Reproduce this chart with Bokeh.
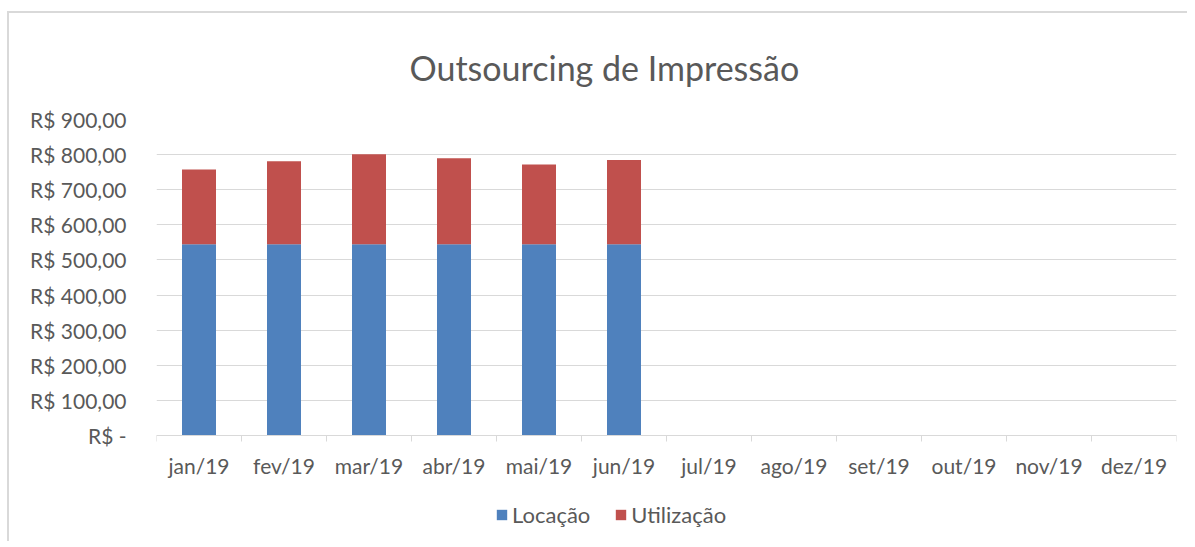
from bokeh.plotting import figure
from bokeh.models import ColumnDataSource, FixedTicker, Legend, LegendItem, Title
from bokeh.core.properties import value
from bokeh.embed import file_html
from bokeh.resources import INLINE

months = ["jan/19", "fev/19", "mar/19", "abr/19", "mai/19", "jun/19",
          "jul/19", "ago/19", "set/19", "out/19", "nov/19", "dez/19"]
locacao = [545, 545, 545, 545, 545, 545, 0, 0, 0, 0, 0, 0]
utilizacao = [213, 236, 256, 245, 227, 240, 0, 0, 0, 0, 0, 0]
y_ticks = [0, 100, 200, 300, 400, 500, 600, 700, 800, 900]
y_labels = ["R$ -", "R$ 100,00", "R$ 200,00", "R$ 300,00", "R$ 400,00",
            "R$ 500,00", "R$ 600,00", "R$ 700,00", "R$ 800,00", "R$ 900,00"]

FONT = "Lato"
GREY = "#595959"
LINE = "#d9d9d9"

xs = [i + 0.5 for i in range(len(months))]
src = ColumnDataSource(dict(x=xs, loc=locacao, uti=utilizacao))
lab = ColumnDataSource(dict(x=xs, y=[0] * len(months), t=months))

p = figure(width=1180, height=530, x_range=(0, len(months)), y_range=(-273, 900),
           output_backend="svg", toolbar_location=None,
           min_border_left=147, min_border_right=13, min_border_top=97,
           min_border_bottom=12)
p.styles = {"border-top": "2px solid #d9d9d9", "border-left": "2px solid #d9d9d9",
            "margin-top": "11px", "margin-left": "7px"}

r = p.vbar_stack(["loc", "uti"], x="x", width=0.4, source=src,
                 color=["#4F81BD", "#C0504D"], line_color=None)

# month labels below the category axis
p.text(x="x", y="y", text="t", source=lab, y_offset=30,
       text_align="center", text_baseline="middle",
       text_font=value(FONT), text_font_size="21px", text_color=GREY)

p.title = Title(text="Outsourcing de Impressão", align="left", offset=253,
                text_font=FONT, text_font_size="34px", text_color=GREY,
                text_font_style="normal", standoff=63)

p.outline_line_color = None
p.xgrid.grid_line_color = None
p.ygrid.grid_line_color = LINE
p.ygrid.grid_line_width = 1

# y axis
p.yaxis.ticker = FixedTicker(ticks=y_ticks)
p.yaxis.major_label_overrides = {t: l for t, l in zip(y_ticks, y_labels)}
p.yaxis.axis_line_color = None
p.yaxis.major_tick_line_color = None
p.yaxis.minor_tick_line_color = None
p.yaxis.major_label_text_font = FONT
p.yaxis.major_label_text_font_size = "21px"
p.yaxis.major_label_text_color = GREY
p.yaxis.major_label_standoff = 24

# x axis at value 0: boundary ticks only
p.xaxis.fixed_location = 0
p.xaxis.ticker = FixedTicker(ticks=[], minor_ticks=list(range(len(months) + 1)))
p.xaxis.axis_line_color = LINE
p.xaxis.axis_line_width = 1
p.xaxis.major_tick_line_color = None
p.xaxis.minor_tick_line_color = LINE
p.xaxis.minor_tick_out = 6
p.xaxis.minor_tick_in = 0
p.xaxis.major_label_standoff = 0

legend = Legend(items=[LegendItem(label="Locação", renderers=[r[0]]),
                       LegendItem(label="Utilização", renderers=[r[1]])],
                orientation="horizontal", location=(339, 3),
                label_text_font=FONT, label_text_font_size="22px",
                label_text_color=GREY, glyph_width=13, glyph_height=13,
                label_standoff=4, spacing=24, border_line_color=None,
                background_fill_alpha=0, padding=0, margin=0)
p.add_layout(legend)

open("out.html", "w").write(file_html(p, INLINE))
